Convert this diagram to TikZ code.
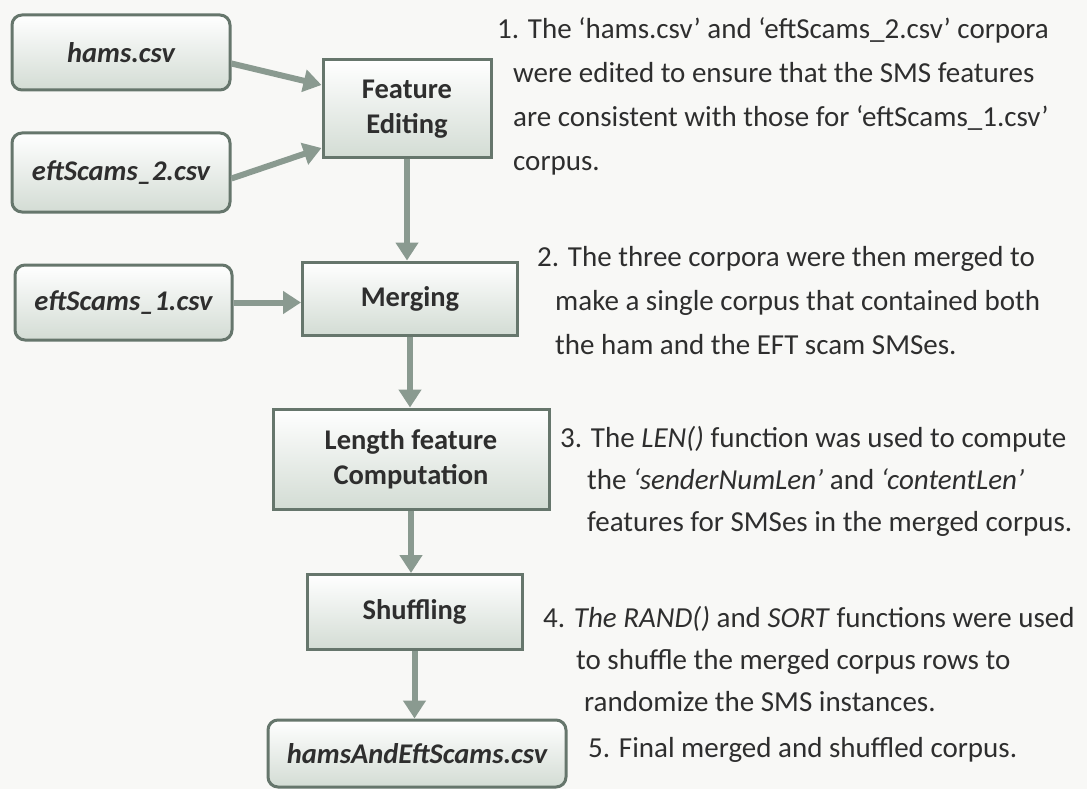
\documentclass[tikz,border=0pt]{standalone}
\usepackage{fontspec}
\setmainfont{Carlito}
\usetikzlibrary{arrows.meta}
\definecolor{bg}{HTML}{F8F8F6}
\definecolor{edge}{HTML}{66766C}
\definecolor{arr}{HTML}{8A9A90}
\definecolor{shadeb}{HTML}{D3DCD4}
\definecolor{txt}{HTML}{2E2E2E}
\begin{document}
\begin{tikzpicture}[x=1pt,y=-1pt,
 box/.style={draw=edge, line width=3pt, top color=white, bottom color=shadeb, inner sep=0pt, align=center, text=txt, font=\fontsize{28.5}{35}\selectfont\bfseries},
 filebox/.style={box, rounded corners=10pt, font=\fontsize{28.5}{35}\selectfont\bfseries\itshape},
 flow/.style={draw=arr, line width=6pt, -{Triangle[width=22pt,length=18pt]}},
 note/.style={anchor=base west, inner sep=0pt, text=txt, font=\fontsize{29}{42}\selectfont}]
\useasboundingbox (0,0) rectangle (1087,789);
\fill[bg] (0,0) rectangle (1087,789);

% boxes
\node[filebox, minimum width=218pt, minimum height=75pt] (hams) at (121,52.5) {hams.csv};
\node[filebox, minimum width=218pt, minimum height=79pt] (e2) at (121,172.5) {eftScams\_2.csv};
\node[box, minimum width=168pt, minimum height=98pt] (fe) at (407,109) {Feature\\Editing};
\node[filebox, minimum width=217pt, minimum height=75pt] (e1) at (123.5,302.5) {eftScams\_1.csv};
\node[box, minimum width=215pt, minimum height=73pt] (mg) at (410,298.5) {Merging};
\node[box, minimum width=276pt, minimum height=100pt] (lf) at (411,459) {Length feature\\Computation};
\node[box, minimum width=215pt, minimum height=75pt] (sh) at (414.5,612) {Shuffling};
\node[filebox, minimum width=298pt, minimum height=67pt] (out) at (417,753.5) {hamsAndEftScams.csv};

% connectors
\draw[flow] ([yshift=-11pt]hams.east) -- ([yshift=24pt]fe.west);
\draw[flow] ([yshift=-6pt]e2.east) -- ([yshift=-39pt]fe.west);
\draw[flow] (e1.east) -- (e1.east -| mg.west);
\draw[flow] (fe.south) -- (fe.south |- mg.north);
\draw[flow] (mg.south) -- (mg.south |- lf.north);
\draw[flow] (lf.south) -- (lf.south |- sh.north);
\draw[flow] (sh.south) -- (sh.south |- out.north);

% notes
\node[note] (n1a) at (497,39) {1. The ‘hams.csv’ and ‘eftScams\_2.csv’ corpora};
\node[note] (n1b) at (513,83) {were edited to ensure that the SMS features};
\node[note] (n1c) at (513,127) {are consistent with those for ‘eftScams\_1.csv’};
\node[note] (n1d) at (513,171) {corpus.};

\node[note] (n2a) at (537,266) {2. The three corpora were then merged to};
\node[note] (n2b) at (555,310) {make a single corpus that contained both};
\node[note] (n2c) at (555,354) {the ham and the EFT scam SMSes.};

\node[note] (n3a) at (560,447) {3. The \textit{LEN()} function was used to compute};
\node[note] (n3b) at (587,489) {the \textit{‘senderNumLen’} and \textit{‘contentLen’}};
\node[note] (n3c) at (587,531) {features for SMSes in the merged corpus.};

\node[note] (n4a) at (543,627) {4. \textit{The RAND()} and \textit{SORT} functions were used};
\node[note] (n4b) at (576,669) {to shuffle the merged corpus rows to};
\node[note] (n4c) at (584,711) {randomize the SMS instances.};

\node[note] (n5) at (588,757) {5. Final merged and shuffled corpus.};
\end{tikzpicture}
\end{document}
